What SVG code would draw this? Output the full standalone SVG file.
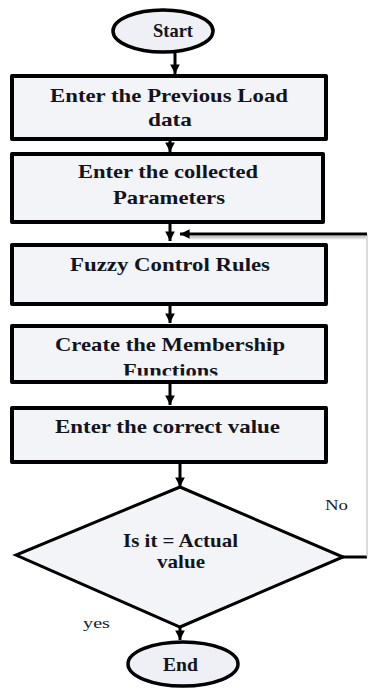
<svg xmlns="http://www.w3.org/2000/svg" width="368" height="688" viewBox="0 0 368 688">
<style>
.box{fill:#f3f4f7;stroke:#000;stroke-width:4;stroke-linejoin:round}
.term{fill:#eef0f5;stroke:#000;stroke-width:3.5}
.dia{fill:#f3f4f7;stroke:#000;stroke-width:3;stroke-linejoin:miter}
.t{font-family:"Liberation Serif","Times New Roman",serif;font-weight:bold;font-size:19px;fill:#141420;text-anchor:middle}
.l{font-family:"Liberation Serif","Times New Roman",serif;font-size:15px;fill:#1a1a2a;text-anchor:middle}
.c{stroke:#000;stroke-width:3;fill:none}
</style>
<defs>
<marker id="ah" viewBox="0 0 10 10" refX="10" refY="5" markerWidth="3.2" markerHeight="3.2" orient="auto" markerUnits="strokeWidth">
<path d="M0,0 L10,5 L0,10 Z" fill="#000"/>
</marker>
<clipPath id="clip4"><rect x="0" y="326" width="368" height="49.5"/></clipPath>
</defs>
<g id="connectors">
<line class="c" x1="175" y1="52" x2="175" y2="74" marker-end="url(#ah)"/>
<line class="c" x1="170" y1="141" x2="170" y2="152" marker-end="url(#ah)"/>
<line class="c" x1="170" y1="224" x2="170" y2="241" marker-end="url(#ah)"/>
<line class="c" x1="170" y1="306" x2="170" y2="323" marker-end="url(#ah)"/>
<line class="c" x1="170" y1="384" x2="170" y2="405" marker-end="url(#ah)"/>
<line class="c" x1="180" y1="464" x2="180" y2="487" marker-end="url(#ah)"/>
<line class="c" x1="180" y1="627" x2="180" y2="640" marker-end="url(#ah)"/>
<line x1="342" y1="557" x2="367" y2="557" stroke="#000" stroke-width="3"/>
<line x1="367" y1="234" x2="367" y2="557" stroke="#b8b8bc" stroke-width="1"/>
<line x1="190" y1="237" x2="366" y2="237" stroke="#c8c8cc" stroke-width="2"/>
<line x1="190" y1="238.5" x2="366" y2="238.5" stroke="#e4e4e8" stroke-width="1.5"/>
<line class="c" x1="367" y1="234" x2="180" y2="234" marker-end="url(#ah)"/>
</g>
<g id="start">
<ellipse class="term" cx="163" cy="31" rx="50" ry="21"/>
<text class="t" x="173" y="37" font-size="16" textLength="40" lengthAdjust="spacingAndGlyphs">Start</text>
</g>
<g id="box1">
<rect class="box" x="12" y="76" width="314" height="63"/>
<text class="t" x="169" y="101.5" textLength="238" lengthAdjust="spacingAndGlyphs">Enter the Previous Load</text>
<text class="t" x="170" y="126" textLength="44" lengthAdjust="spacingAndGlyphs">data</text>
</g>
<g id="box2">
<rect class="box" x="12" y="154" width="311" height="68"/>
<text class="t" x="168" y="178" textLength="180" lengthAdjust="spacingAndGlyphs">Enter the collected</text>
<text class="t" x="169" y="204" textLength="112" lengthAdjust="spacingAndGlyphs">Parameters</text>
</g>
<g id="box3">
<rect class="box" x="12" y="245" width="314" height="59"/>
<text class="t" x="170" y="271" textLength="200" lengthAdjust="spacingAndGlyphs">Fuzzy Control Rules</text>
</g>
<g id="box4">
<rect class="box" x="12" y="326" width="314" height="56"/>
<text class="t" x="170" y="351" textLength="230" lengthAdjust="spacingAndGlyphs">Create the Membership</text>
<text class="t" x="170.5" y="377" textLength="95" lengthAdjust="spacingAndGlyphs" clip-path="url(#clip4)">Functions</text>
</g>
<g id="box5">
<rect class="box" x="12" y="408" width="314" height="54"/>
<text class="t" x="167.5" y="433" textLength="225" lengthAdjust="spacingAndGlyphs">Enter the correct value</text>
</g>
<g id="decision">
<polygon class="dia" points="180,487 343,557 180,627 16,555"/>
<text class="t" x="180.5" y="547" textLength="115" lengthAdjust="spacingAndGlyphs">Is it = Actual</text>
<text class="t" x="181" y="568" textLength="48" lengthAdjust="spacingAndGlyphs">value</text>
</g>
<g id="labels">
<text class="l" x="336.5" y="510" textLength="23" lengthAdjust="spacingAndGlyphs">No</text>
<text class="l" x="96.5" y="628" textLength="27" lengthAdjust="spacingAndGlyphs">yes</text>
</g>
<g id="end">
<ellipse class="term" cx="183" cy="664" rx="55" ry="22"/>
<text class="t" x="180.5" y="671" font-size="18" textLength="35" lengthAdjust="spacingAndGlyphs">End</text>
</g>
</svg>
